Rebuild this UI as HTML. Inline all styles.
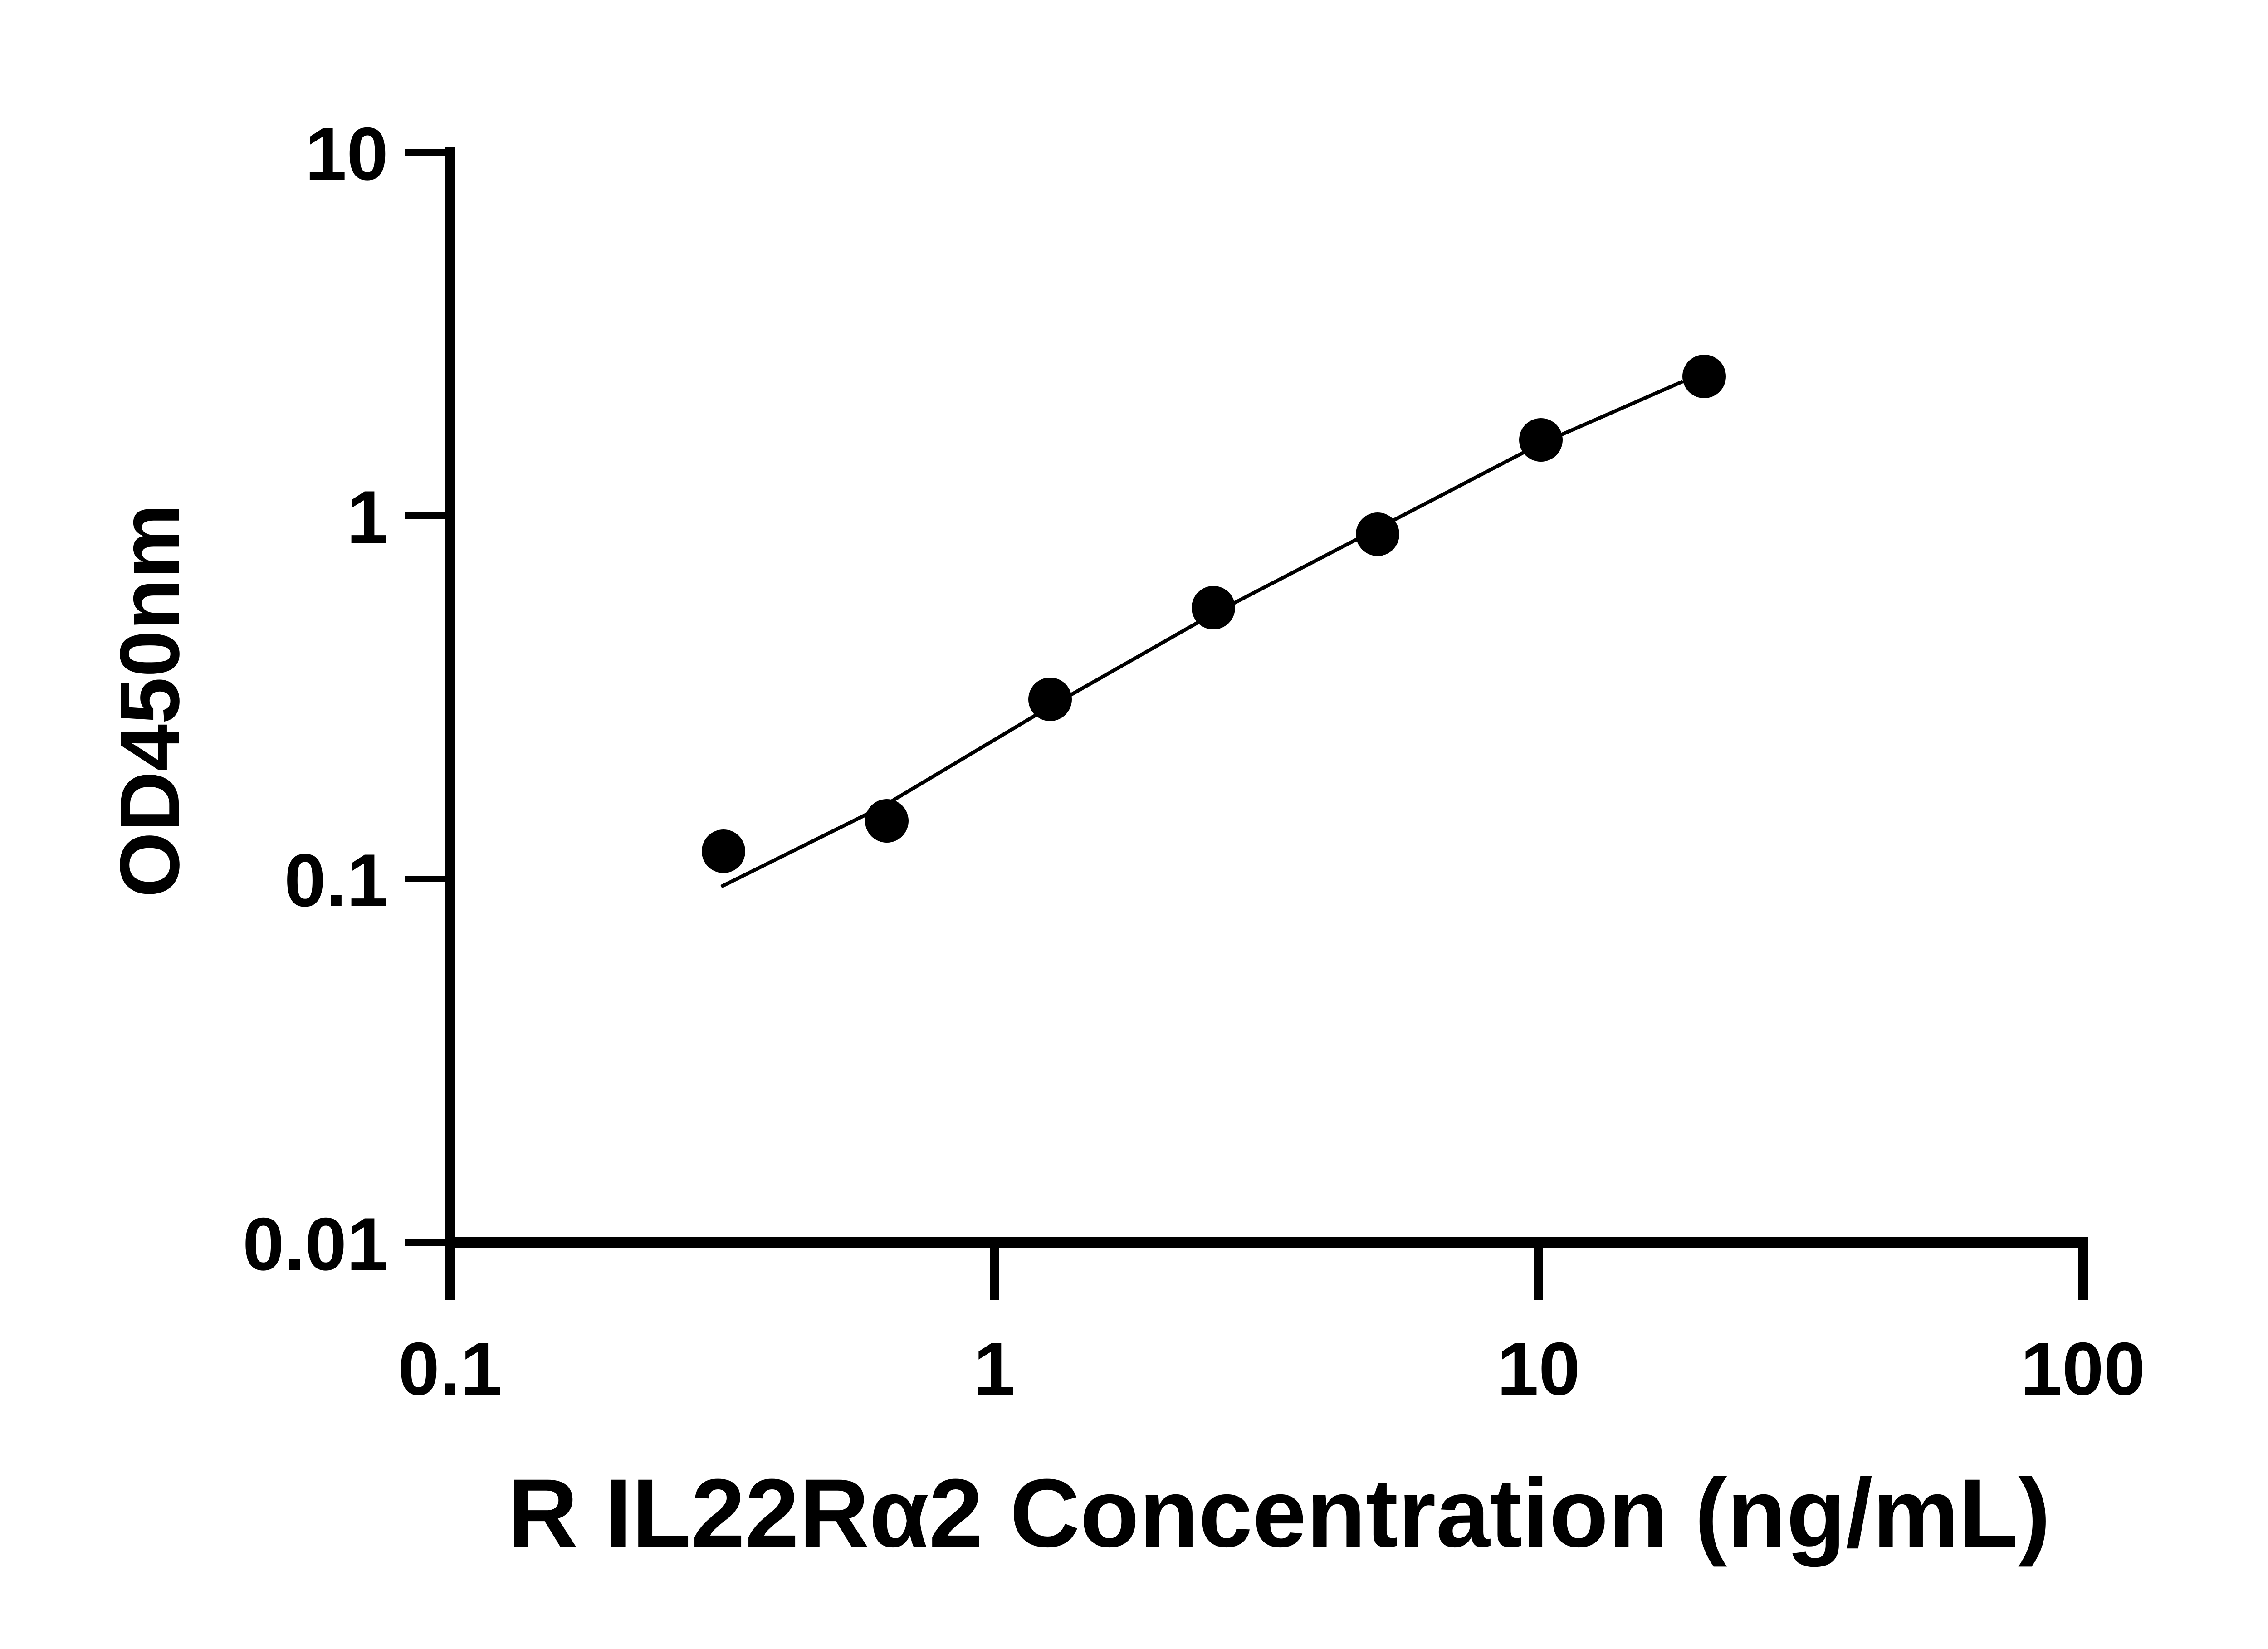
<!DOCTYPE html>
<html><head><meta charset="utf-8"><style>html,body{margin:0;padding:0;background:#fff}svg{display:block}</style></head>
<body>
<svg width="5142" height="3636" viewBox="0 0 5142 3636" xmlns="http://www.w3.org/2000/svg">
<rect width="5142" height="3636" fill="#fff"/>
<g stroke="#000" fill="none" stroke-linecap="butt">
<line x1="992" y1="324" x2="992" y2="2866" stroke-width="24"/>
<line x1="980" y1="2740" x2="4603" y2="2740" stroke-width="24"/>
<line x1="892" y1="336" x2="1000" y2="336" stroke-width="14"/>
<line x1="892" y1="1137" x2="1000" y2="1137" stroke-width="14"/>
<line x1="892" y1="1938" x2="1000" y2="1938" stroke-width="14"/>
<line x1="892" y1="2740" x2="1000" y2="2740" stroke-width="14"/>
<line x1="2192" y1="2740" x2="2192" y2="2866" stroke-width="20"/>
<line x1="3392" y1="2740" x2="3392" y2="2866" stroke-width="20"/>
<line x1="4592" y1="2740" x2="4592" y2="2866" stroke-width="22"/>
<path d="M1590,1955 L1950,1776 L2310,1561 L2670,1356 L3032,1168 L3393,980 L3710,841" stroke-width="8" stroke-linejoin="round"/>
</g>
<g fill="#000">
<circle cx="1595" cy="1877" r="48"/>
<circle cx="1955" cy="1810" r="48"/>
<circle cx="2315" cy="1542" r="48"/>
<circle cx="2675" cy="1340" r="48"/>
<circle cx="3037" cy="1178" r="48"/>
<circle cx="3397" cy="970" r="48"/>
<circle cx="3757" cy="830" r="48"/>
</g>
<g font-family="Liberation Sans, Arial, sans-serif" font-weight="bold" font-size="165" fill="#000">
<text x="856" y="396" text-anchor="end">10</text>
<text x="856" y="1197" text-anchor="end">1</text>
<text x="856" y="1998" text-anchor="end">0.1</text>
<text x="856" y="2800" text-anchor="end">0.01</text>
<text x="992" y="3075" text-anchor="middle">0.1</text>
<text x="2192" y="3075" text-anchor="middle">1</text>
<text x="3392" y="3075" text-anchor="middle">10</text>
<text x="4592" y="3075" text-anchor="middle">100</text>
<text x="2820" y="3410" text-anchor="middle" font-size="214">R IL22Rα2 Concentration (ng/mL)</text>
<text transform="translate(394,1545) rotate(-90)" text-anchor="middle" font-size="186">OD450nm</text>
</g>
</svg>
</body></html>
